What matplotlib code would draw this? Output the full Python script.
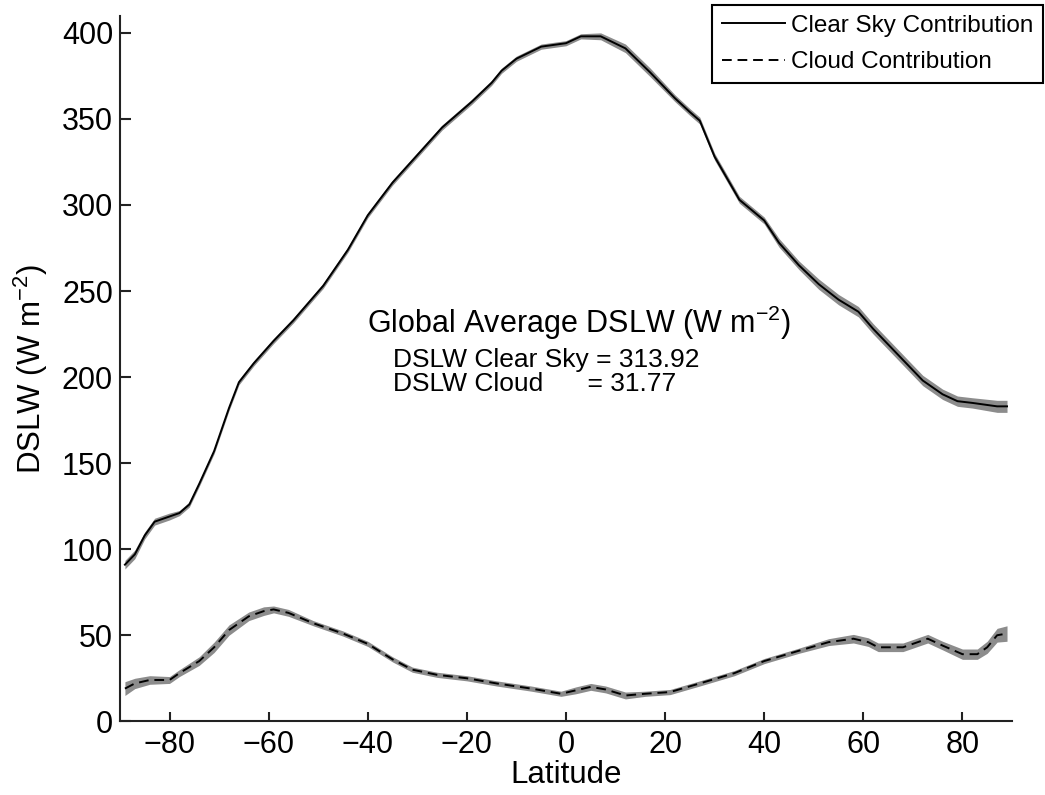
import numpy as np
import matplotlib
matplotlib.use("Agg")
import matplotlib.pyplot as plt

# ---------------- data ----------------
clear_lat = [-89, -87, -85, -83, -80, -78, -76, -74, -71, -68, -66, -63, -59, -55,
             -49, -44, -40, -35, -30, -25, -19, -15, -13, -10, -5, 0, 3, 7, 12, 17,
             22, 25, 27, 30, 35, 40, 43, 47, 51, 55, 59, 62, 67, 72, 76, 79, 82, 87, 89]
clear_val = [91, 97, 108, 116, 119, 121, 126, 138, 157, 182, 197, 208, 221, 233,
             253, 274, 294, 313, 329, 345, 360, 371, 378, 385, 392, 394, 398, 398, 391, 377,
             362, 354, 349, 328, 303, 291, 278, 265, 254, 245, 238, 228, 213, 198, 190, 186, 185, 183, 183]
clear_spread = [2.5, 2.5, 2.0, 2.0, 2.0, 1.5, 1.5, 1.5, 1.5, 1.5, 1.5, 1.5, 1.5, 1.5,
                1.5, 1.5, 1.5, 1.5, 1.5, 1.5, 1.5, 1.5, 1.5, 1.5, 1.5, 1.5, 1.5, 2.0, 2.5, 2.5,
                2.0, 2.0, 2.0, 2.0, 2.0, 2.0, 2.5, 2.5, 3.0, 3.0, 3.0, 3.0, 3.0, 3.0, 3.0, 3.0, 3.0, 3.5, 3.5]

cloud_lat = [-89, -87, -84, -80, -78, -74, -71, -68, -64, -61, -59, -56, -51, -45,
             -40, -35, -31, -26, -20, -14, -7, -1, 2, 5, 8, 12, 16, 21, 27, 34,
             40, 47, 53, 58, 61, 63, 68, 73, 76, 80, 83, 85, 87, 89]
cloud_val = [19, 22, 24, 24, 28, 35, 43, 53, 61, 64, 65, 63, 57, 51,
             45, 36, 30, 27, 25, 22, 19, 16, 18, 20, 18.5, 15, 16, 17, 22, 28,
             35, 41, 46, 48, 46, 43, 43, 48, 44, 39, 39, 43, 50, 51]
cloud_spread = [4.0, 3.0, 2.5, 2.0, 2.0, 2.5, 3.0, 3.0, 2.5, 2.5, 2.0, 2.0, 1.5, 1.5,
                1.5, 1.5, 1.5, 1.5, 1.5, 1.5, 1.5, 1.5, 2.0, 2.0, 2.0, 2.0, 1.5, 1.5, 1.5, 1.5,
                1.5, 1.5, 2.0, 2.5, 2.5, 2.5, 2.5, 2.5, 2.5, 3.0, 3.0, 3.5, 4.0, 4.5]

xticks = [-80, -60, -40, -20, 0, 20, 40, 60, 80]
yticks = [0, 50, 100, 150, 200, 250, 300, 350, 400]

# ---------------- style ----------------
plt.rcParams['font.family'] = ['Liberation Sans', 'DejaVu Sans']
plt.rcParams['mathtext.fontset'] = 'custom'
plt.rcParams['mathtext.rm'] = 'Liberation Sans'
plt.rcParams['mathtext.it'] = 'Liberation Sans'
plt.rcParams['mathtext.default'] = 'regular'

fig = plt.figure(figsize=(10.45, 7.95), dpi=100)
ax = fig.add_axes([0.1148, 0.0927, 0.9684 - 0.1148, 0.9803 - 0.0927])

cl = np.array(clear_lat, float)
cv = np.array(clear_val, float)
cs = np.array(clear_spread, float)
dl = np.array(cloud_lat, float)
dv = np.array(cloud_val, float)
ds = np.array(cloud_spread, float)

band = '#8c8c8c'
ax.fill_between(cl, cv - cs, cv + cs, color=band, lw=0)
ax.fill_between(dl, dv - ds, dv + ds, color=band, lw=0)
ax.plot(cl, cv, color='black', lw=1.4, label='Clear Sky Contribution')
ax.plot(dl, dv, color='black', lw=1.4, dashes=(5, 3), label='Cloud Contribution')

ax.set_xlim(-90, 90)
ax.set_ylim(0, 410)
ax.set_xticks(xticks)
ax.set_yticks(yticks)

for s in ['top', 'right']:
    ax.spines[s].set_visible(False)
for s in ['left', 'bottom']:
    ax.spines[s].set_linewidth(1.5)
    ax.spines[s].set_color('#222222')

ax.tick_params(axis='both', direction='in', labelsize=22, width=1.5, color='#222222')
ax.tick_params(axis='x', length=6.5, pad=6)
ax.tick_params(axis='y', length=8, pad=5)

ax.set_xlabel('Latitude', fontsize=22.5)
ax.set_ylabel(r'DSLW (W m$^{-2}$)', fontsize=22.5)
ax.xaxis.set_label_coords(0.5, -0.055)
ax.yaxis.set_label_coords(-0.078, 0.5)

ax.text(-40.2, 225.8, r'Global Average DSLW (W m$^{-2}$)', fontsize=22, va='baseline', ha='left')
ax.text(-34.9, 206.0, 'DSLW Clear Sky = 313.92', fontsize=19, va='baseline', ha='left')
ax.text(-34.9, 192.2, 'DSLW Cloud      = 31.77', fontsize=19, va='baseline', ha='left')

leg = ax.legend(loc='upper right', bbox_to_anchor=(1043 / 1045, 1 - 5 / 795),
                bbox_transform=fig.transFigure, borderaxespad=0, fontsize=17.5,
                frameon=True, fancybox=False, shadow=False, handlelength=2.6,
                handletextpad=0.25, borderpad=0.4, labelspacing=0.6)
leg.get_frame().set_edgecolor('black')
leg.get_frame().set_linewidth(1.5)
leg.get_frame().set_alpha(1)

fig.savefig('out.png', dpi=100)
